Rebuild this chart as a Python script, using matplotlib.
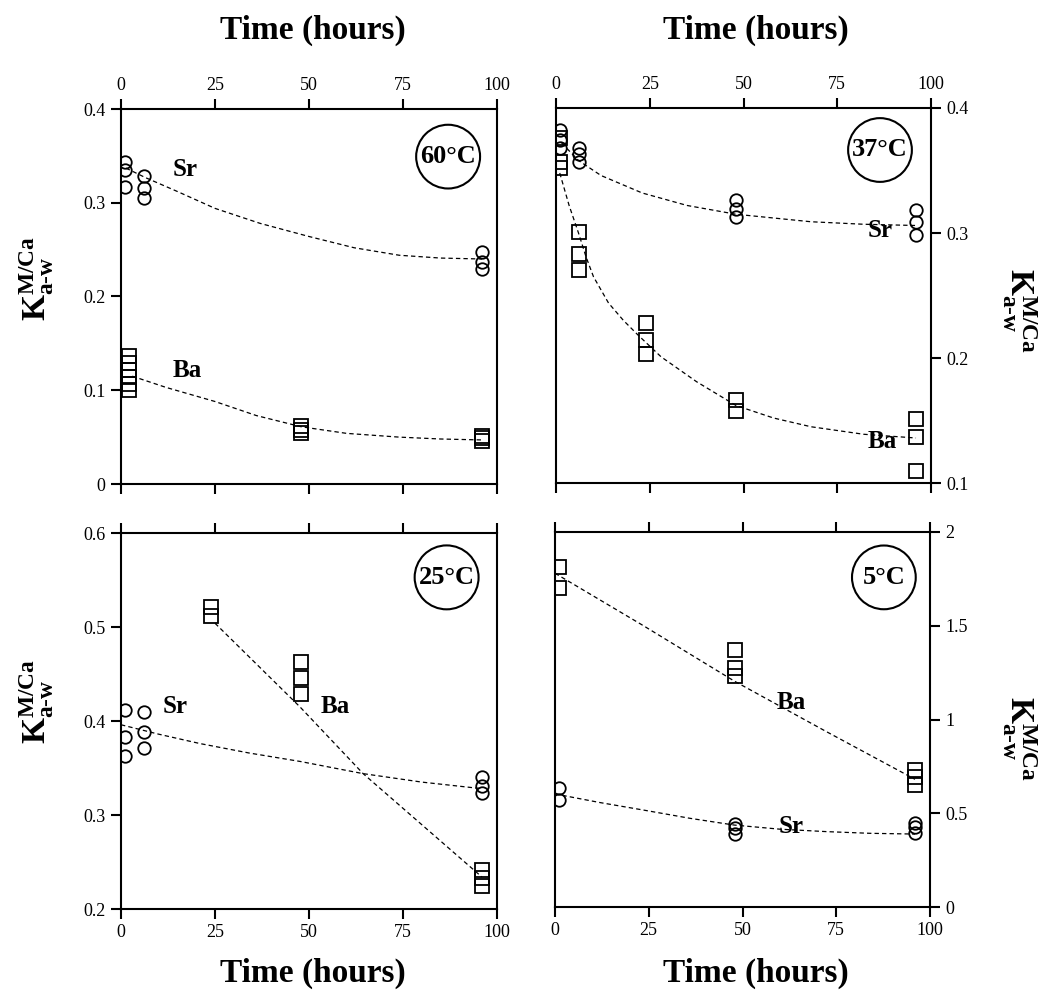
import numpy as np
import matplotlib
matplotlib.use('Agg')
import matplotlib.pyplot as plt
from matplotlib.patches import Circle

plt.rcParams['font.family'] = ['Liberation Serif', 'DejaVu Serif']
plt.rcParams['mathtext.fontset'] = 'custom'
plt.rcParams['mathtext.rm'] = 'Liberation Serif'
plt.rcParams['mathtext.bf'] = 'Liberation Serif:bold'
plt.rcParams['mathtext.it'] = 'Liberation Serif:italic'

# 60 C
sr60_t = [1, 1, 1, 6, 6, 6, 96, 96, 96]
sr60 = [0.343, 0.335, 0.317, 0.329, 0.316, 0.305, 0.247, 0.237, 0.229]
ba60_t = [2, 2, 2, 2, 2, 2, 48, 48, 48, 96, 96, 96]
ba60 = [0.137, 0.129, 0.122, 0.114, 0.107, 0.100, 0.062, 0.058, 0.054, 0.051, 0.049, 0.046]
fit_sr60_t = [1.3, 6.4, 15, 25, 37, 50, 62, 74, 85, 96]
fit_sr60 = [0.337, 0.327, 0.312, 0.294, 0.278, 0.264, 0.252, 0.244, 0.241, 0.240]
fit_ba60_t = [3, 12, 25, 36, 48, 60, 74, 85, 96]
fit_ba60 = [0.115, 0.103, 0.088, 0.073, 0.061, 0.054, 0.050, 0.048, 0.047]

# 37 C
sr37_t = [1, 1, 1, 6, 6, 6, 48, 48, 48, 96, 96, 96]
sr37 = [0.382, 0.374, 0.368, 0.368, 0.363, 0.357, 0.326, 0.319, 0.313, 0.318, 0.309, 0.298]
ba37_t = [1, 1, 1, 6, 6, 6, 24, 24, 24, 48, 48, 96, 96, 96]
ba37 = [0.376, 0.357, 0.352, 0.301, 0.283, 0.270, 0.228, 0.214, 0.203, 0.166, 0.158, 0.151, 0.137, 0.110]
fit_sr37_t = [1.5, 6, 12, 23, 35, 48, 68, 82, 96]
fit_sr37 = [0.372, 0.358, 0.346, 0.332, 0.322, 0.315, 0.309, 0.307, 0.306]
fit_ba37_t = [1, 3.5, 6, 8, 10, 14, 18, 22, 28, 37.5, 48, 58, 68, 82, 96]
fit_ba37 = [0.348, 0.322, 0.300, 0.281, 0.265, 0.244, 0.230, 0.218, 0.201, 0.181, 0.162, 0.152, 0.145, 0.139, 0.136]

# 25 C
sr25_t = [1, 1, 1, 6, 6, 6, 96, 96, 96]
sr25 = [0.412, 0.383, 0.363, 0.410, 0.388, 0.371, 0.340, 0.331, 0.323]
ba25_t = [24, 24, 48, 48, 48, 96, 96, 96]
ba25 = [0.521, 0.512, 0.463, 0.446, 0.429, 0.241, 0.233, 0.224]
fit_sr25_t = [0, 10, 21, 34, 47.6, 64.4, 80, 96]
fit_sr25 = [0.396, 0.386, 0.376, 0.366, 0.357, 0.344, 0.335, 0.328]
fit_ba25_t = [25, 47.6, 64.4, 96]
fit_ba25 = [0.504, 0.415, 0.344, 0.234]

# 5 C
ba5_t = [1, 1, 48, 48, 48, 96, 96, 96]
ba5 = [1.812, 1.700, 1.371, 1.273, 1.234, 0.731, 0.692, 0.651]
sr5_t = [1, 1, 48, 48, 48, 96, 96, 96]
sr5 = [0.633, 0.571, 0.441, 0.420, 0.388, 0.450, 0.425, 0.393]
fit_ba5_t = [0, 23.6, 47.8, 72.4, 96]
fit_ba5 = [1.780, 1.500, 1.205, 0.935, 0.681]
fit_sr5_t = [0, 12, 23.6, 36, 47.8, 60, 72.4, 84, 96]
fit_sr5 = [0.603, 0.557, 0.517, 0.473, 0.437, 0.415, 0.402, 0.393, 0.389]

xticks = [0, 25, 50, 75, 100]
xticklabels = ['0', '25', '50', '75', '100']

fig = plt.figure(figsize=(10.39, 9.96), dpi=100)
W, H = 1039, 996


def make_ax(x0, x1, ytop, ybot):
    return fig.add_axes([x0 / W, (H - ybot) / H, (x1 - x0) / W, (ybot - ytop) / H])


ax1 = make_ax(121, 497, 109, 484)
ax2 = make_ax(556, 931, 108, 483)
ax3 = make_ax(121, 497, 533, 909)
ax4 = make_ax(555, 930, 532, 907)

circ = dict(marker='o', ms=9, mfc='none', mec='black', mew=1.3, ls='none')
sq = dict(marker='s', ms=9.5, mfc='none', mec='black', mew=1.3, ls='none')
dash = dict(color='black', lw=0.9, ls=(0, (3.5, 2.5)))

panels = [
    (ax1, sr60_t, sr60, ba60_t, ba60, fit_sr60_t, fit_sr60, fit_ba60_t, fit_ba60),
    (ax2, sr37_t, sr37, ba37_t, ba37, fit_sr37_t, fit_sr37, fit_ba37_t, fit_ba37),
    (ax3, sr25_t, sr25, ba25_t, ba25, fit_sr25_t, fit_sr25, fit_ba25_t, fit_ba25),
    (ax4, sr5_t, sr5, ba5_t, ba5, fit_sr5_t, fit_sr5, fit_ba5_t, fit_ba5),
]
for ax, st, s, bt, b, fst, fs, fbt, fb in panels:
    ax.plot(fst, fs, **dash)
    ax.plot(fbt, fb, **dash)
    ax.plot(st, s, **circ)
    ax.plot(bt, b, **sq)
    ax.set_xlim(0, 100)
    ax.set_xticks(xticks)
    for sp in ax.spines.values():
        sp.set_linewidth(1.5)
    ax.tick_params(direction='out', length=7, width=1.5, labelsize=13, pad=4)

ax1.set_ylim(0, 0.4)
ax1.set_yticks([0, 0.1, 0.2, 0.3, 0.4])
ax1.set_yticklabels(['0', '0.1', '0.2', '0.3', '0.4'])
ax2.set_ylim(0.1, 0.4)
ax2.set_yticks([0.1, 0.2, 0.3, 0.4])
ax2.set_yticklabels(['0.1', '0.2', '0.3', '0.4'])
ax3.set_ylim(0.2, 0.6)
ax3.set_yticks([0.2, 0.3, 0.4, 0.5, 0.6])
ax3.set_yticklabels(['0.2', '0.3', '0.4', '0.5', '0.6'])
ax4.set_ylim(0, 2)
ax4.set_yticks([0, 0.5, 1, 1.5, 2])
ax4.set_yticklabels(['0', '0.5', '1', '1.5', '2'])

# top row: labels on top; bottom row: labels on bottom
for ax in (ax1, ax2):
    ax.tick_params(axis='x', top=True, bottom=True, labeltop=True, labelbottom=False)
    ax.set_xticklabels(xticklabels)
for ax in (ax3, ax4):
    ax.tick_params(axis='x', top=True, bottom=True, labeltop=False, labelbottom=True)
    ax.set_xticklabels(xticklabels)
for ax in (ax2, ax4):
    ax.yaxis.tick_right()
    ax.tick_params(axis='y', left=False, right=True, labelleft=False, labelright=True)

lab = dict(fontsize=18, fontweight='bold', ha='center', va='center')
ax1.text(17, 0.335, 'Sr', **lab)
ax1.text(17.5, 0.121, 'Ba', **lab)
ax2.text(86.5, 0.302, 'Sr', **lab)
ax2.text(87, 0.133, 'Ba', **lab)
ax3.text(14.5, 0.415, 'Sr', **lab)
ax3.text(57, 0.415, 'Ba', **lab)
ax4.text(63, 1.09, 'Ba', **lab)
ax4.text(63, 0.43, 'Sr', **lab)

temps = [(ax1, '60°C', 0.870, 0.873), (ax2, '37°C', 0.864, 0.888),
         (ax3, '25°C', 0.866, 0.882), (ax4, '5°C', 0.877, 0.879)]
for ax, t, cx, cy in temps:
    ax.add_patch(Circle((cx, cy), 0.085, transform=ax.transAxes, fill=False,
                        ec='black', lw=1.5))
    ax.text(cx, cy, t, transform=ax.transAxes, fontsize=19, fontweight='bold',
            ha='center', va='center')

tl = dict(fontsize=24, fontweight='bold', ha='center', va='center')
fig.text(313 / W, 1 - 30 / H, 'Time (hours)', **tl)
fig.text(756 / W, 1 - 30 / H, 'Time (hours)', **tl)
fig.text(313 / W, 1 - 973 / H, 'Time (hours)', **tl)
fig.text(756 / W, 1 - 973 / H, 'Time (hours)', **tl)

klab = r'$\mathbf{K}^{\mathbf{M/Ca}}_{\mathbf{a\text{-}w}}$'
fig.text(37 / W, 1 - 279 / H, klab, fontsize=24, rotation=90, ha='center', va='center')
fig.text(37 / W, 1 - 702 / H, klab, fontsize=24, rotation=90, ha='center', va='center')
fig.text(1019 / W, 1 - 310 / H, klab, fontsize=24, rotation=-90, ha='center', va='center')
fig.text(1019 / W, 1 - 738 / H, klab, fontsize=24, rotation=-90, ha='center', va='center')

plt.savefig('out.png', dpi=100)
